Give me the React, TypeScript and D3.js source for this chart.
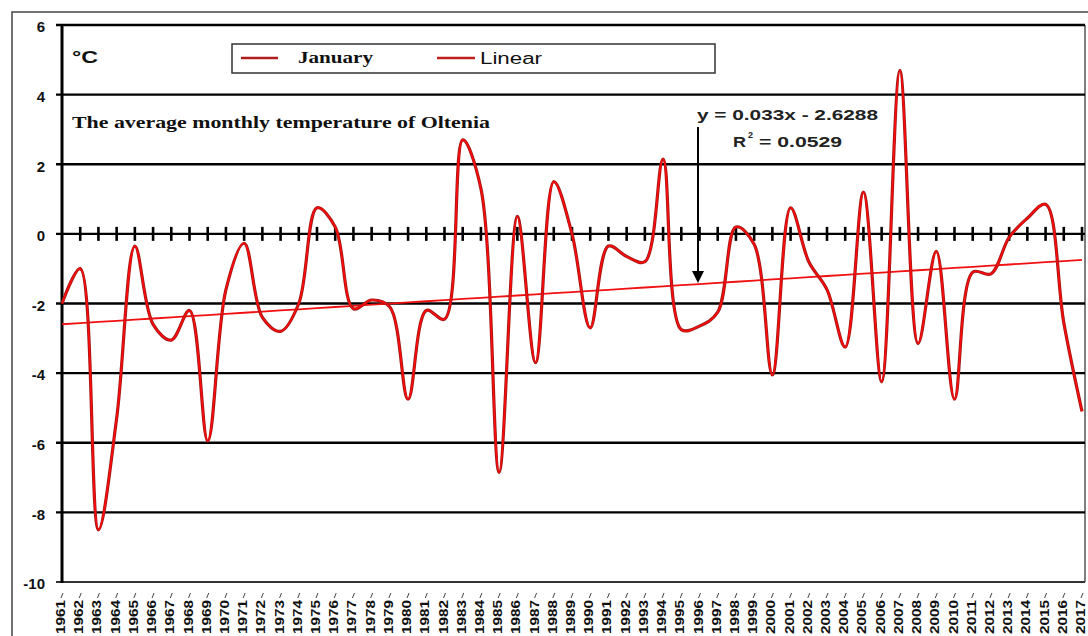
import * as d3 from 'd3';

// January mean temperature, Oltenia (°C)
const years = d3.range(1961, 2018);
const january = [
  -2.0, -1.0, -8.5, -5.3, -0.35, -2.6, -3.05, -2.2, -5.95, -1.6,
  -0.27, -2.4, -2.8, -2.0, 0.75, 0.2, -2.15, -1.9, -2.1, -4.75,
  -2.2, -2.45, 2.7, 1.3, -6.85, 0.5, -3.7, 1.5, 0.0, -2.7,
  -0.35, -0.65, -0.8, 2.15, -2.75, -2.65, -2.25, 0.2, -0.3, -4.05,
  0.75, -0.8, -1.6, -3.25, 1.2, -4.25, 4.7, -3.15, -0.5, -4.75,
  -1.1, -1.15, -0.1, 0.45, 0.85, -2.55, -5.1,
];
const yTicks = [6, 4, 2, 0, -2, -4, -6, -8, -10];
const trendSlope = 0.033;
const trendIntercept = -2.6288;

const W = 1088;
const H = 636;
const plot = { left: 62, right: 1082, top: 25, bottom: 582 };

const sans = '"Liberation Sans", Arial, sans-serif';
const serif = '"Liberation Serif", "Times New Roman", serif';

export default function App() {
  const x = d3.scaleLinear().domain([1961, 2017]).range([plot.left, plot.right]);
  const y = d3.scaleLinear().domain([-10, 6]).range([plot.bottom, plot.top]);

  const line = d3
    .line<number>()
    .x((_d, i) => x(years[i]))
    .y((d) => y(d))
    .curve(d3.curveCatmullRom.alpha(0.5));
  const path = line(january) ?? '';

  // trend: y = a*x + b, x = 1..57
  const trend = years.map((_yr, i) => trendSlope * (i + 1) + trendIntercept);
  const trendPath =
    d3
      .line<number>()
      .x((_d, i) => x(years[i]))
      .y((d) => y(d))(trend) ?? '';

  const y0 = y(0);
  const arrowX = 698;
  const frameRight = 1085;

  return (
    <svg
      width={W}
      height={H}
      style={{ position: 'absolute', left: 0, top: 0, background: '#fff' }}
    >
      {/* outer chart frame */}
      <rect x={12} y={12} width={W + 20} height={H + 20} fill="#fff" stroke="#444" strokeWidth={1.5} />

      {/* plot area border (right) */}
      <line x1={frameRight} x2={frameRight} y1={plot.top} y2={plot.bottom} stroke="#555" strokeWidth={1.5} />

      {/* horizontal grid */}
      {yTicks.map((t) => (
        <line
          key={'g' + t}
          x1={plot.left - 6}
          x2={frameRight}
          y1={y(t)}
          y2={y(t)}
          stroke={t === -10 ? '#333' : '#000'}
          strokeWidth={t === -10 ? 2 : 2.4}
        />
      ))}

      {/* y labels */}
      {yTicks.map((t) => (
        <text
          key={'l' + t}
          x={45}
          y={y(t) + 2}
          dy="0.35em"
          textAnchor="end"
          fontFamily={sans}
          fontWeight="bold"
          fontSize={15}
          fill="#111"
        >
          {t}
        </text>
      ))}

      {/* category ticks on the zero line */}
      {years.slice(1).map((yr) => (
        <line key={'t' + yr} x1={x(yr)} x2={x(yr)} y1={y0 - 7} y2={y0 + 7} stroke="#000" strokeWidth={2.6} />
      ))}

      {/* y axis */}
      <line x1={plot.left} x2={plot.left} y1={plot.top - 1} y2={plot.bottom + 1} stroke="#000" strokeWidth={3} />

      {/* x labels */}
      {years.map((yr) => (
        <g key={'x' + yr} transform={`translate(${x(yr)},0)`}>
          <line x1={1} x2={-1} y1={593} y2={598} stroke="#444" strokeWidth={1} />
          <text
            transform="translate(3,600) rotate(-90)"
            textAnchor="end"
            fontFamily={sans}
            fontWeight="bold"
            fontSize={12}
            textLength={34}
            lengthAdjust="spacingAndGlyphs"
            fill="#111"
          >
            {yr}
          </text>
        </g>
      ))}

      {/* trend line */}
      <path d={trendPath} fill="none" stroke="#f01010" strokeWidth={1.8} />

      {/* January series */}
      <path d={path} fill="none" stroke="#9e1a1a" strokeWidth={3.2} strokeLinejoin="round" />
      <path d={path} fill="none" stroke="#ff0a0a" strokeWidth={1.6} strokeLinejoin="round" />

      {/* unit */}
      <text x={72} y={63} fontFamily={sans} fontWeight="bold" fontSize={17} textLength={26} lengthAdjust="spacingAndGlyphs" fill="#111">
        °C
      </text>

      {/* legend */}
      <rect x={232} y={44} width={483} height={29} fill="#fff" stroke="#333" strokeWidth={1.5} />
      <line x1={241} x2={278} y1={58} y2={58} stroke="#b01e1e" strokeWidth={2.5} />
      <text x={298} y={63} fontFamily={serif} fontWeight="bold" fontSize={16} textLength={75} lengthAdjust="spacingAndGlyphs" fill="#111">
        January
      </text>
      <line x1={437} x2={475} y1={58} y2={58} stroke="#c01e1e" strokeWidth={2.5} />
      <text x={480} y={64} fontFamily={sans} fontSize={16} textLength={62} lengthAdjust="spacingAndGlyphs" fill="#111">
        Linear
      </text>

      {/* title */}
      <text x={72} y={128} fontFamily={serif} fontWeight="bold" fontSize={16} textLength={418} lengthAdjust="spacingAndGlyphs" fill="#111">
        The average monthly temperature of Oltenia
      </text>

      {/* regression equation */}
      <text x={697} y={120} fontFamily={sans} fontWeight="bold" fontSize={15} textLength={181} lengthAdjust="spacingAndGlyphs" fill="#222">
        y = 0.033x - 2.6288
      </text>
      <text x={733} y={147} fontFamily={sans} fontWeight="bold" fontSize={15} textLength={13} lengthAdjust="spacingAndGlyphs" fill="#222">
        R
      </text>
      <text x={748} y={138} fontFamily={sans} fontWeight="bold" fontSize={9} fill="#222">
        2
      </text>
      <text x={759} y={147} fontFamily={sans} fontWeight="bold" fontSize={15} textLength={83} lengthAdjust="spacingAndGlyphs" fill="#222">
        = 0.0529
      </text>

      {/* arrow */}
      <line x1={arrowX} x2={arrowX} y1={127} y2={273} stroke="#000" strokeWidth={2} />
      <path d={`M${arrowX - 6},271 L${arrowX + 6},271 L${arrowX},283 Z`} fill="#000" />
    </svg>
  );
}
